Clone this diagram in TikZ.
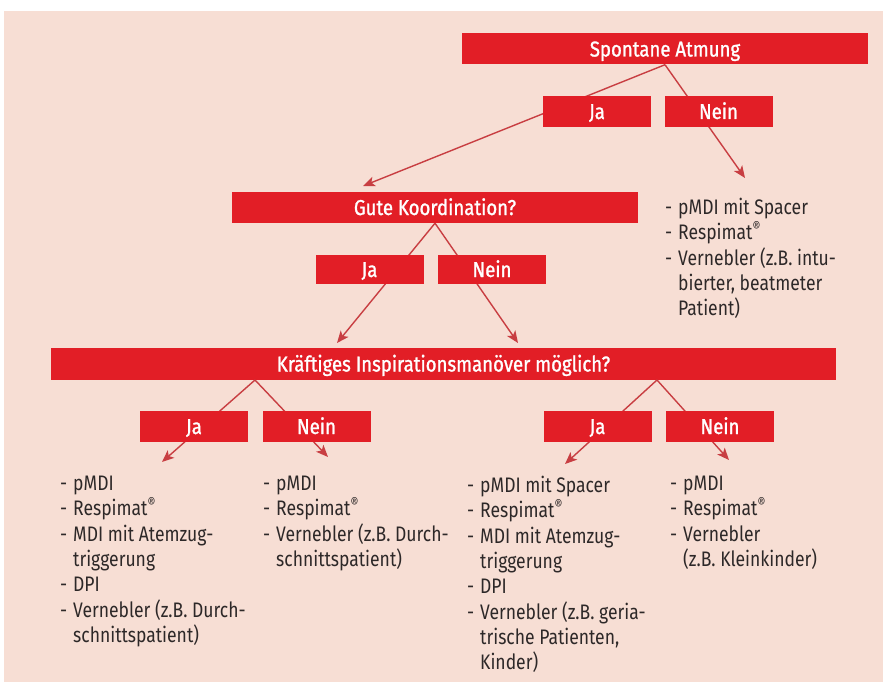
\documentclass[tikz,border=0pt]{standalone}
\usepackage{fontspec}
\setmainfont{Fira Sans}[FakeStretch=0.835]
\newfontfamily\kastenfont{Fira Sans}[FakeStretch=0.865, FakeBold=1.2]
\usepackage{tikz}
\usetikzlibrary{arrows.meta}
\definecolor{rosa}{RGB}{247,222,212}
\definecolor{rot}{RGB}{226,30,38}
\definecolor{linie}{RGB}{200,62,66}
\definecolor{schrift}{RGB}{45,40,40}
\tikzstyle{frage} = [fill=rot, text=white, inner sep=0pt,
    font=\fontsize{21.5}{24}\kastenfont, text height=15pt, text depth=0pt,
    minimum height=31pt]
\tikzstyle{antwort} = [frage, minimum width=108pt]
\tikzstyle{liste} = [anchor=north west, align=left, inner sep=0pt,
    text=schrift, font=\fontsize{21}{25.3}\selectfont]
\tikzset{>={Stealth[length=12pt,width=10pt,inset=3pt]}}
\newcommand{\pkt}{\makebox[13pt][l]{-}}
\newcommand{\ein}{\hspace*{13pt}}
\newcommand{\reg}{\textsuperscript{®}}

\begin{document}
\begin{tikzpicture}[x=1pt,y=-1pt]
    \useasboundingbox (0,0) rectangle (883,682);
    \fill[white] (0,0) rectangle (883,682);
    \fill[rosa] (4,11) rectangle (883,682);
    % Fragen
    \node[frage, minimum width=406pt] (atmung) at (665,49) {Spontane Atmung};
    \node[frage, minimum width=406pt] (koord) at (435,207.5) {Gute Koordination?};
    \node[frage, minimum width=785pt, minimum height=32pt] (kraft) at (443.5,364)
        {Kräftiges Inspirationsmanöver möglich?};
    % Pfeile
    \coordinate (k1) at (255,380);
    \coordinate (k2) at (657,380);
    \coordinate (p0) at (363,186);
    \coordinate (q0) at (745,178);
    \coordinate (p1) at (337,343);
    \coordinate (q1) at (518,343);
    \coordinate (p2) at (162,462);
    \coordinate (q2) at (328,457);
    \coordinate (p3) at (565,464);
    \coordinate (q3) at (729,460);
    \begin{scope}[draw=linie, fill=linie, line width=1.4pt]
    \draw[->] (atmung.south) to (p0);
    \draw[->] (atmung.south) to (q0);
    \draw[->] (koord.south) to (p1);
    \draw[->] (koord.south) to (q1);
    \draw[->] (k1) to (p2);
    \draw[->] (k1) to (q2);
    \draw[->] (k2) to (p3);
    \draw[->] (k2) to (q3);
    \end{scope}
    % Antworten
    \node[antwort] (ja0) at (597,111.5) {Ja};
    \node[antwort] (nein0) at (718.5,111.5) {Nein};
    \node[antwort, minimum height=29pt] (ja1) at (369.5,269.5) {Ja};
    \node[antwort, minimum height=29pt] (nein1) at (492,269.5) {Nein};
    \node[antwort] (ja2) at (194,426.5) {Ja};
    \node[antwort] (nein2) at (316.5,426.5) {Nein};
    \node[antwort] (ja3) at (597.5,426.5) {Ja};
    \node[antwort] (nein3) at (720,426.5) {Nein};
    % Listen
    \node[liste] (liste0) at (665,198) {\pkt pMDI mit Spacer\\ \pkt Respimat\reg\\
        \pkt Vernebler (z.B. intu-\\ \ein bierter, beatmeter\\ \ein Patient)};
    \node[liste] (liste2) at (60,476) {\pkt pMDI\\ \pkt Respimat\reg\\
        \pkt MDI mit Atemzug-\\ \ein triggerung\\ \pkt DPI\\
        \pkt Vernebler (z.B. Durch-\\ \ein schnittspatient)};
    \node[liste] (liste3) at (263,476) {\pkt pMDI\\ \pkt Respimat\reg\\
        \pkt Vernebler (z.B. Durch-\\ \ein schnittspatient)};
    \node[liste] (liste4) at (467,476) {\pkt pMDI mit Spacer\\ \pkt Respimat\reg\\
        \pkt MDI mit Atemzug-\\ \ein triggerung\\ \pkt DPI\\
        \pkt Vernebler (z.B. geria-\\ \ein trische Patienten,\\ \ein Kinder)};
    \node[liste] (liste5) at (670,476) {\pkt pMDI\\ \pkt Respimat\reg\\
        \pkt Vernebler\\ \ein (z.B. Kleinkinder)};
\end{tikzpicture}
\end{document}
